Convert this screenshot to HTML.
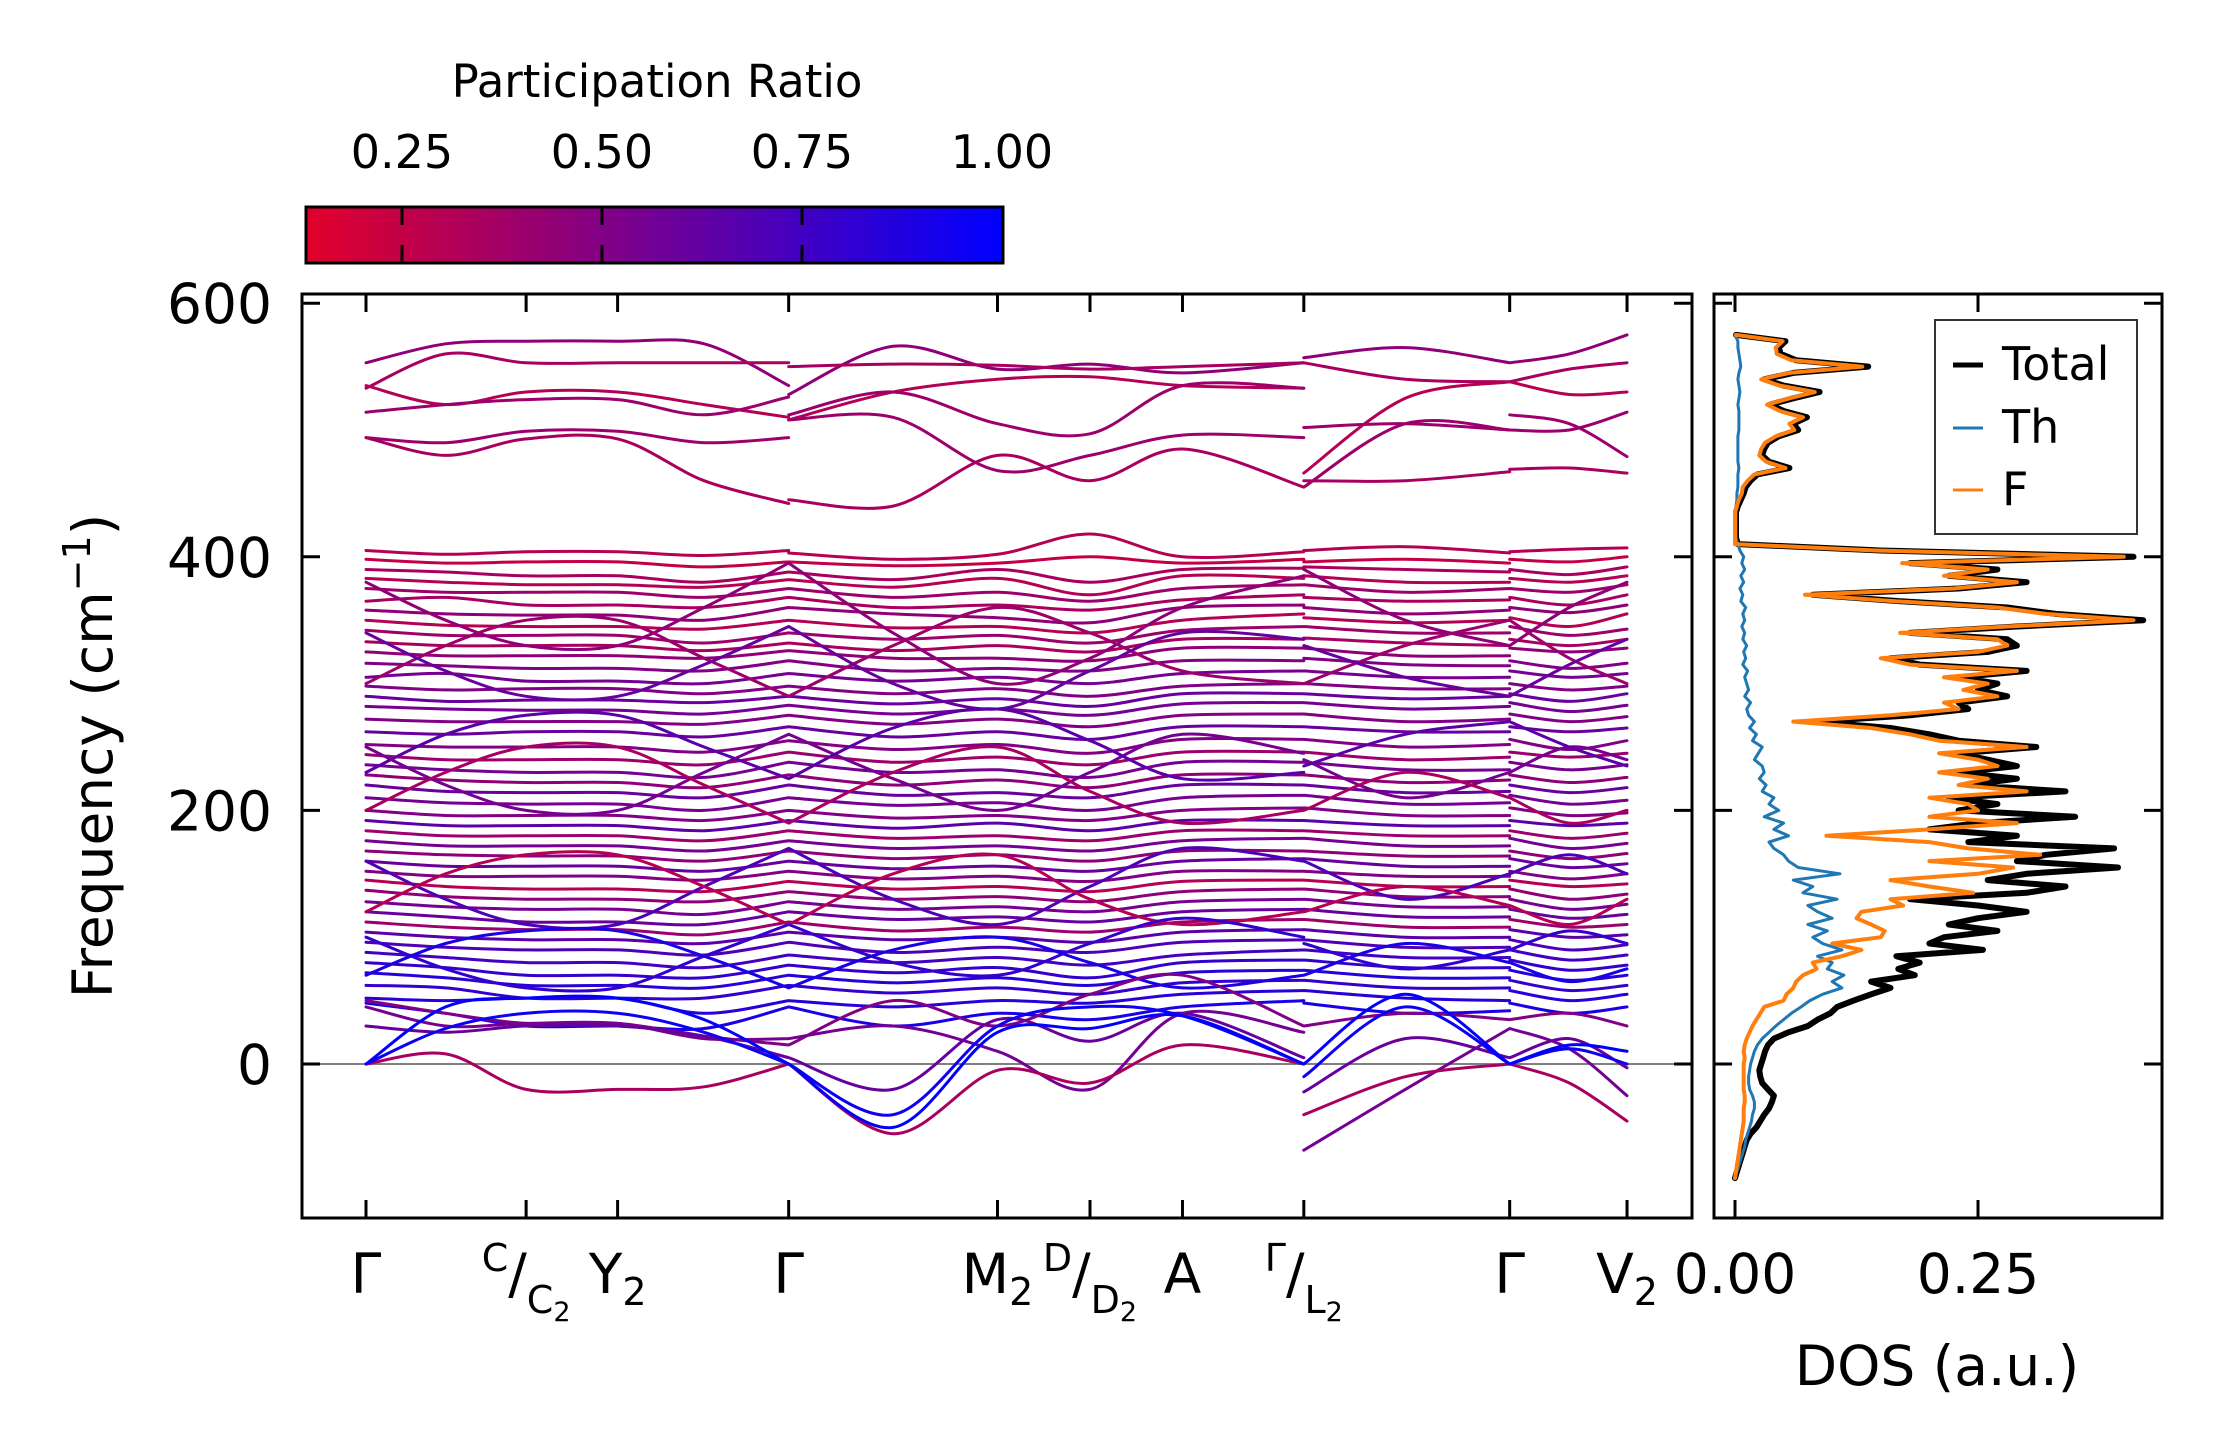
<!DOCTYPE html>
<html><head><meta charset="utf-8"><title>Phonon bands and DOS</title>
<style>
html,body{margin:0;padding:0;background:#fff;}
svg{display:block;font-family:"DejaVu Sans","Liberation Sans",sans-serif;}
</style></head>
<body>
<svg id="fig" width="2222" height="1455" viewBox="0 0 2222 1455" xmlns="http://www.w3.org/2000/svg">
<defs>
<linearGradient id="cmap" x1="0" x2="1" y1="0" y2="0">
<stop offset="0" stop-color="#e2002a"/><stop offset="1" stop-color="#0000ff"/>
</linearGradient>
<clipPath id="mainclip"><rect x="302" y="294" width="1390" height="924"/></clipPath>
<clipPath id="dosclip"><rect x="1714" y="294" width="448" height="924"/></clipPath>
</defs>
<rect x="0" y="0" width="2222" height="1455" fill="#fff"/>
<text x="657" y="97" font-size="45" text-anchor="middle">Participation Ratio</text>
<rect x="306" y="207" width="697" height="56" fill="url(#cmap)" stroke="#000" stroke-width="3"/>
<g id="cbticks"></g>
<g id="bands" clip-path="url(#mainclip)"></g>
<g id="dos" clip-path="url(#dosclip)"></g>
<rect x="302" y="294" width="1390" height="924" fill="none" stroke="#000" stroke-width="3"/>
<rect x="1714" y="294" width="448" height="924" fill="none" stroke="#000" stroke-width="3"/>
<g id="axes"></g>
<text transform="translate(112,756) rotate(-90)" font-size="55" text-anchor="middle">Frequency (cm<tspan dy="-22" font-size="38">−1</tspan><tspan dy="22">)</tspan></text>
<text x="1937" y="1385" font-size="55" text-anchor="middle">DOS (a.u.)</text>
<g>
<rect x="1935" y="320" width="202" height="214" fill="#fff" fill-opacity="0.85" stroke="#333" stroke-width="2"/>
<line x1="1953" y1="365" x2="1983" y2="365" stroke="#000" stroke-width="5"/>
<text x="2002" y="380" font-size="46">Total</text>
<line x1="1953" y1="428" x2="1983" y2="428" stroke="#1f77b4" stroke-width="3"/>
<text x="2002" y="443" font-size="46">Th</text>
<line x1="1953" y1="490" x2="1983" y2="490" stroke="#ff7f0e" stroke-width="3"/>
<text x="2002" y="505" font-size="46">F</text>
</g>
</svg>
<script>
// ---------- Colorbar ----------
const cbTicks = [0.25, 0.50, 0.75, 1.00];
const cbTickLabels = ["0.25", "0.50", "0.75", "1.00"];
// ---------- Band structure k-path ----------
const kTickVals = [0, 161, 253, 425, 635, 728, 821, 943, 1150, 1268];
const kNodes = [0,80,161,253,340,425, 425,530,635,728,821,943, 943,1045,1150, 1150,1210,1268];
const freqTicks = [0, 200, 400, 600];
const freqTickLabels = ["0", "200", "400", "600"];
// band frequencies at kNodes (cm^-1)
const bands = [
[553,568,570,570,568,535, 528,566,548,552,545,553, 557,565,553, 553,560,575],
[533,560,553,553,553,553, 550,552,551,548,550,553, 553,540,538, 538,548,553],
[535,520,530,530,520,510, 508,530,540,542,535,533, 466,525,538, 538,528,530],
[514,520,524,524,512,526, 512,530,505,497,535,533, 502,505,500, 500,500,514],
[494,490,499,499,490,494, 508,510,468,480,496,494, 455,505,500, 512,505,479],
[494,480,493,493,460,442, 445,440,480,460,485,455, 460,460,467, 469,470,466],
[405,402,404,404,401,405, 403,398,402,418,400,404, 405,408,403, 404,406,407],
[398,395,396,396,392,396, 396,393,395,400,395,398, 396,398,395, 398,396,400],
[390,388,385,385,380,388, 388,382,390,380,390,391, 392,390,388, 390,386,392],
[383,380,378,378,376,382, 382,376,383,370,385,383, 385,380,380, 383,380,385],
[375,372,372,372,368,375, 375,368,372,365,375,378, 378,372,375, 375,372,378],
[365,368,362,362,360,368, 368,360,362,358,366,370, 368,365,366, 368,362,370],
[358,355,354,354,350,360, 360,355,352,348,360,362, 360,355,358, 360,356,362],
[350,346,345,345,343,350, 350,344,345,340,350,355, 352,348,350, 352,345,355],
[342,338,338,338,332,340, 340,335,338,332,342,345, 345,340,340, 345,338,343],
[333,330,330,330,326,332, 332,326,330,325,335,335, 336,332,330, 335,330,335],
[325,322,322,322,320,326, 326,320,320,318,328,328, 328,322,322, 328,325,328],
[316,314,312,312,310,318, 318,310,312,310,318,318, 320,315,314, 318,312,316],
[305,308,302,302,300,308, 308,302,305,300,308,310, 310,305,305, 310,305,308],
[298,295,296,296,292,298, 298,292,296,290,298,300, 300,296,296, 300,295,298],
[290,286,287,287,285,290, 290,284,288,282,292,292, 292,288,290, 292,286,292],
[282,280,279,279,276,283, 283,276,280,275,284,285, 285,280,282, 285,278,283],
[272,270,270,270,268,275, 275,268,272,266,275,276, 276,270,272, 276,270,274],
[262,260,262,262,258,266, 266,258,262,256,266,266, 266,262,262, 266,262,265],
[252,250,250,250,246,255, 255,248,252,245,256,256, 256,250,252, 256,248,255],
[244,240,240,240,236,246, 246,238,242,236,246,246, 246,240,242, 246,242,245],
[236,232,230,230,226,238, 238,230,232,226,238,238, 238,232,232, 238,232,236],
[228,224,222,222,218,228, 228,220,224,218,228,228, 228,222,224, 228,222,226],
[220,215,214,214,210,220, 220,212,214,210,220,220, 220,214,215, 220,214,218],
[210,206,205,205,200,210, 210,204,206,200,210,212, 212,205,206, 212,205,208],
[200,196,196,196,192,200, 200,194,196,192,200,202, 202,196,196, 202,196,198],
[192,188,188,188,184,192, 192,186,190,184,192,192, 192,188,188, 192,188,190],
[184,180,180,180,176,184, 184,178,180,176,184,184, 184,180,180, 184,178,182],
[176,172,172,172,168,176, 176,170,172,168,176,178, 178,172,172, 178,170,174],
[168,165,164,164,160,168, 168,162,165,160,168,168, 168,164,164, 168,162,166],
[160,156,156,156,152,160, 160,154,156,152,160,162, 162,156,156, 162,155,158],
[152,148,148,148,145,152, 152,146,148,144,152,152, 152,148,148, 152,146,150],
[145,140,138,138,136,144, 144,138,140,136,144,145, 145,140,140, 145,140,142],
[137,132,130,130,128,136, 136,130,132,128,136,138, 138,132,132, 138,130,134],
[128,124,122,122,118,128, 128,122,124,120,128,130, 130,124,124, 130,122,126],
[120,116,112,112,110,120, 120,114,116,112,120,122, 122,116,116, 122,115,118],
[112,108,106,106,102,112, 112,105,108,104,112,114, 114,108,108, 114,108,110],
[104,100,98,98,95,104, 104,98,100,96,104,106, 106,100,100, 106,100,102],
[96,92,90,90,86,96, 96,88,92,88,96,98, 98,92,92, 98,90,94],
[88,84,80,80,76,86, 86,80,84,78,86,90, 90,84,84, 90,82,86],
[80,76,70,70,68,78, 78,72,76,68,80,82, 82,76,76, 82,74,78],
[72,68,62,62,60,70, 70,64,68,62,72,74, 74,68,68, 74,66,70],
[62,60,52,52,52,62, 62,56,60,55,64,66, 66,60,60, 66,58,62],
[52,50,52,52,40,50, 50,45,50,48,55,58, 58,52,50, 58,50,55],
[48,40,30,30,28,45, 45,30,40,35,45,50, 48,40,42, 48,40,45],
[380,350,330,330,360,395, 395,340,300,320,360,385, 390,350,330, 330,360,380],
[300,330,350,350,320,290, 290,330,360,340,310,300, 300,330,350, 350,320,300],
[250,220,200,200,230,260, 260,225,200,230,260,245, 240,210,230, 230,250,240],
[200,230,250,250,220,190, 190,230,250,215,190,200, 200,230,210, 210,190,200],
[160,130,110,110,140,170, 170,130,110,140,170,160, 160,130,150, 150,165,150],
[120,150,165,165,140,110, 110,150,165,130,110,120, 120,140,125, 125,110,130],
[100,75,60,60,85,110, 110,80,70,95,115,100, 95,75,90, 90,105,95],
[70,95,105,105,85,60, 60,90,100,80,60,70, 70,95,80, 80,65,75],
[340,310,290,290,315,345, 345,300,280,310,340,335, 330,305,290, 290,315,335],
[230,260,275,275,250,225, 225,265,280,255,225,230, 235,260,270, 270,250,235],
[50,40,32,32,22,15, 15,50,30,55,70,30, 30,40,35, 35,40,30],
[45,30,32,32,20,20, 20,30,10,-20,40,25, -68,-20,28, 28,12,-25],
[30,25,30,30,22,5, 5,-20,35,18,40,5, -22,20,5, 5,20,-3],
[0,8,-20,-20,-18,0, 0,-55,-5,-15,15,0, -40,-10,0, 0,-15,-45],
[0,28,40,40,25,0, 0,-40,30,45,38,0, -10,45,0, 0,12,0],
[0,45,52,52,35,0, 0,-50,25,28,38,0, 0,55,0, 0,15,10]
];
const bandPR = [0.45,0.35,0.30,0.40,0.40,0.35,
0.30,0.25,0.35,0.30,0.40,0.35,0.45,0.30,0.40,0.35,0.45,0.50,0.55,0.50,0.60,0.55,0.50,0.60,0.50,0.40,0.55,0.45,0.60,0.55,0.50,0.65,0.40,0.55,0.45,0.60,0.50,0.30,0.45,0.55,0.60,0.40,0.65,0.70,0.75,0.80,0.85,0.80,0.85,0.90,
0.45,0.40,0.55,0.35,0.70,0.30,0.80,0.90,0.60,0.65,
0.50,0.55,0.60,0.35,0.95,1.00];
// ---------- DOS ----------
const dosFreq = [-90,-85,-80,-75,-70,-65,-60,-55,-50,-45,
-40,-35,-30,-25,-20,-15,-10,-5,0,5,
10,15,20,25,30,35,40,45,50,55,
60,65,70,75,80,85,90,95,100,105,
110,115,120,125,130,135,140,145,150,155,
160,165,170,175,180,185,190,195,200,205,
210,215,220,225,230,235,240,245,250,255,
260,265,270,275,280,285,290,295,300,305,
310,315,320,325,330,335,340,345,350,355,
360,365,370,375,380,385,390,395,400,405,
410,415,420,425,430,435,440,445,450,455,
460,465,470,475,480,485,490,495,500,505,
510,515,520,525,530,535,540,545,550,555,
560,565,570,575];
const dosTotal = [0.000,0.002,0.004,0.006,0.008,0.010,0.012,0.016,0.022,0.026,
0.030,0.035,0.038,0.040,0.034,0.028,0.026,0.025,0.027,0.029,
0.031,0.034,0.040,0.055,0.075,0.085,0.098,0.105,0.122,0.140,
0.160,0.140,0.185,0.168,0.190,0.166,0.255,0.200,0.215,0.270,
0.220,0.250,0.300,0.250,0.180,0.300,0.340,0.260,0.300,0.394,
0.290,0.320,0.390,0.240,0.290,0.200,0.250,0.350,0.230,0.270,
0.220,0.340,0.240,0.290,0.230,0.290,0.260,0.230,0.310,0.230,
0.200,0.160,0.080,0.180,0.240,0.230,0.280,0.250,0.270,0.230,
0.300,0.190,0.160,0.260,0.290,0.280,0.180,0.290,0.420,0.330,
0.280,0.170,0.080,0.230,0.300,0.220,0.270,0.180,0.410,0.150,
0.003,0.001,0.001,0.001,0.001,0.001,0.003,0.006,0.009,0.011,
0.016,0.023,0.056,0.035,0.028,0.030,0.034,0.045,0.065,0.060,
0.074,0.050,0.036,0.060,0.087,0.050,0.030,0.060,0.137,0.063,
0.047,0.045,0.052,0.001];
const dosTh = [0.000,0.002,0.004,0.006,0.008,0.010,0.011,0.013,0.015,0.017,
0.018,0.020,0.020,0.018,0.015,0.014,0.014,0.015,0.016,0.018,
0.020,0.023,0.028,0.035,0.042,0.050,0.058,0.068,0.077,0.090,
0.110,0.100,0.112,0.095,0.100,0.085,0.110,0.090,0.080,0.095,
0.075,0.100,0.085,0.075,0.105,0.070,0.080,0.060,0.108,0.065,
0.055,0.050,0.040,0.035,0.055,0.040,0.050,0.030,0.045,0.035,
0.040,0.028,0.032,0.025,0.030,0.028,0.020,0.024,0.028,0.018,
0.022,0.015,0.020,0.014,0.012,0.016,0.010,0.014,0.012,0.010,
0.013,0.008,0.011,0.009,0.012,0.008,0.010,0.007,0.010,0.008,
0.011,0.006,0.008,0.005,0.009,0.006,0.010,0.007,0.009,0.005,
0.003,0.001,0.001,0.001,0.001,0.001,0.001,0.002,0.002,0.003,
0.003,0.003,0.004,0.003,0.003,0.003,0.003,0.003,0.004,0.004,
0.004,0.004,0.003,0.004,0.005,0.004,0.003,0.004,0.006,0.005,
0.004,0.003,0.003,0.000];
const dosF = [0.000,0.001,0.002,0.003,0.004,0.005,0.006,0.007,0.008,0.009,
0.009,0.009,0.010,0.010,0.009,0.009,0.009,0.009,0.009,0.010,
0.009,0.010,0.012,0.015,0.018,0.022,0.026,0.030,0.050,0.053,
0.060,0.063,0.070,0.084,0.080,0.110,0.130,0.100,0.150,0.154,
0.140,0.125,0.130,0.173,0.160,0.245,0.200,0.160,0.250,0.286,
0.200,0.314,0.240,0.200,0.094,0.200,0.290,0.200,0.250,0.240,
0.200,0.300,0.230,0.260,0.210,0.270,0.250,0.210,0.300,0.210,
0.180,0.140,0.060,0.160,0.230,0.215,0.270,0.235,0.260,0.215,
0.290,0.180,0.150,0.250,0.280,0.270,0.170,0.280,0.410,0.320,
0.270,0.165,0.072,0.225,0.290,0.215,0.260,0.172,0.400,0.145,
0.000,0.000,0.000,0.000,0.000,0.000,0.002,0.004,0.007,0.008,
0.013,0.020,0.052,0.032,0.025,0.027,0.031,0.042,0.061,0.056,
0.070,0.046,0.033,0.056,0.082,0.046,0.027,0.056,0.131,0.058,
0.043,0.042,0.049,0.001];
const dosTicks = [0.00, 0.25];
const dosTickLabels = ["0.00", "0.25"];
// k labels
const kLabelMain = ["Γ","","Y","Γ","M","","A","","Γ","V"];
const kLabelSub  = ["","","2","","2","","","","","2"];
const kFracTop   = ["","C","","","","D","","Γ","",""];
const kFracBot   = ["","C","","","","D","","L","",""];

// ---------- scales ----------
const NS = "http://www.w3.org/2000/svg";
function kx(k){ return 366 + k*0.9945; }
function fy(f){ return 1064 - f*1.268; }
function dx(d){ return 1735 + d*972; }
function cbx(v){ return 402 + (v-0.25)*800; }
const PRMIN = 0.13, PRMAX = 1.0;
function prColor(p){
  let t = (p-PRMIN)/(PRMAX-PRMIN); t = Math.max(0, Math.min(1, t));
  const r = Math.round(226*(1-t)), b = Math.round(42 + (255-42)*t);
  return "rgb("+r+",0,"+b+")";
}
function mk(tag, attrs, parent){
  const el = document.createElementNS(NS, tag);
  for (const k in attrs) el.setAttribute(k, attrs[k]);
  parent.appendChild(el);
  return el;
}
function smoothPath(pts){
  let d = "M" + pts[0][0].toFixed(1) + "," + pts[0][1].toFixed(1);
  for (let i=0;i<pts.length-1;i++){
    const p0 = pts[Math.max(0,i-1)], p1 = pts[i], p2 = pts[i+1], p3 = pts[Math.min(pts.length-1,i+2)];
    const c1x = p1[0] + (p2[0]-p0[0])/6, c1y = p1[1] + (p2[1]-p0[1])/6;
    const c2x = p2[0] - (p3[0]-p1[0])/6, c2y = p2[1] - (p3[1]-p1[1])/6;
    d += " C" + c1x.toFixed(1)+","+c1y.toFixed(1)+" "+c2x.toFixed(1)+","+c2y.toFixed(1)+" "+p2[0].toFixed(1)+","+p2[1].toFixed(1);
  }
  return d;
}

// ---------- colorbar ticks ----------
const cbg = document.getElementById("cbticks");
cbTicks.forEach((v,i)=>{
  const x = cbx(v);
  if (v < 0.999){
    const t1 = mk("line",{x1:x,y1:207,x2:x,y2:225,stroke:"#000","stroke-width":3},cbg);
    
    
    const t2 = mk("line",{x1:x,y1:245,x2:x,y2:263,stroke:"#000","stroke-width":3},cbg);
    
    
  }
  const tl = mk("text",{x:x,y:168,"font-size":46,"text-anchor":"middle"},cbg);
  tl.textContent = cbTickLabels[i];
  
  
});

// ---------- bands ----------
const bg = document.getElementById("bands");
const zl = mk("line",{x1:302,y1:fy(0),x2:1692,y2:fy(0),stroke:"#808080","stroke-width":2},bg);


const groups = [[0,6],[6,12],[12,15],[15,18]];
bands.forEach((b,bi)=>{
  let d = "";
  groups.forEach(g=>{
    const pts = [];
    for (let i=g[0]; i<g[1]; i++) pts.push([kx(kNodes[i]), fy(b[i])]);
    d += smoothPath(pts) + " ";
  });
  const p = mk("path",{d:d,fill:"none",stroke:prColor(bandPR[bi]),"stroke-width":3,"stroke-linecap":"round"},bg);
  
  
});

// ---------- DOS ----------
const dg = document.getElementById("dos");
function dosLine(arr, color, w, name){
  let d = "";
  arr.forEach((v,i)=>{ d += (i?"L":"M") + dx(v).toFixed(1) + "," + fy(dosFreq[i]).toFixed(1) + " "; });
  const p = mk("path",{d:d,fill:"none",stroke:color,"stroke-width":w,"stroke-linejoin":"round","stroke-linecap":"round"},dg);
  
  
}
dosLine(dosTotal,"#000",6,"dos-total-line");
dosLine(dosTh,"#1f77b4",3,"dos-th-line");
dosLine(dosF,"#ff7f0e",4,"dos-f-line");

// ---------- axes ticks ----------
const ag = document.getElementById("axes");
function tick(x1,y1,x2,y2,name){
  const t = mk("line",{x1:x1,y1:y1,x2:x2,y2:y2,stroke:"#000","stroke-width":3},ag);
  
  
}
freqTicks.forEach((f,i)=>{
  const y = fy(f);
  tick(302,y,320,y,'y-tick-left');
  tick(1674,y,1692,y,'y-tick-right');
  tick(1714,y,1732,y,'dos-y-tick-left');
  tick(2144,y,2162,y,'dos-y-tick-right');
  const tl = mk("text",{x:272,y:y+20,"font-size":55,"text-anchor":"end"},ag);
  tl.textContent = freqTickLabels[i];
  
  
});
kTickVals.forEach(k=>{
  const x = kx(k);
  tick(x,294,x,312,'k-tick-top');
  tick(x,1200,x,1218,'k-tick-bottom');
});
dosTicks.forEach((v,i)=>{
  const x = dx(v);
  tick(x,294,x,312,'dos-x-tick-top');
  tick(x,1200,x,1218,'dos-x-tick-bottom');
  const tl = mk("text",{x:x,y:1293,"font-size":55,"text-anchor":"middle"},ag);
  tl.textContent = dosTickLabels[i];
  
  
});
kTickVals.forEach((k,i)=>{
  const x = kx(k);
  const t = mk("text",{x:x,y:1293,"font-size":55,"text-anchor":"middle"},ag);
  
  
  if (kFracTop[i]){
    const a = mk("tspan",{"font-size":38,dy:-22},t); a.textContent = kFracTop[i];
    const s = mk("tspan",{"font-size":55,dy:22},t); s.textContent = "/";
    const c = mk("tspan",{"font-size":38,dy:20},t); c.textContent = kFracBot[i];
    const n = mk("tspan",{"font-size":27,dy:8},t); n.textContent = "2";
  } else {
    const m = mk("tspan",{},t); m.textContent = kLabelMain[i];
    if (kLabelSub[i]){ const s = mk("tspan",{"font-size":38,dy:12},t); s.textContent = kLabelSub[i]; }
  }
});
</script>
</body></html>
